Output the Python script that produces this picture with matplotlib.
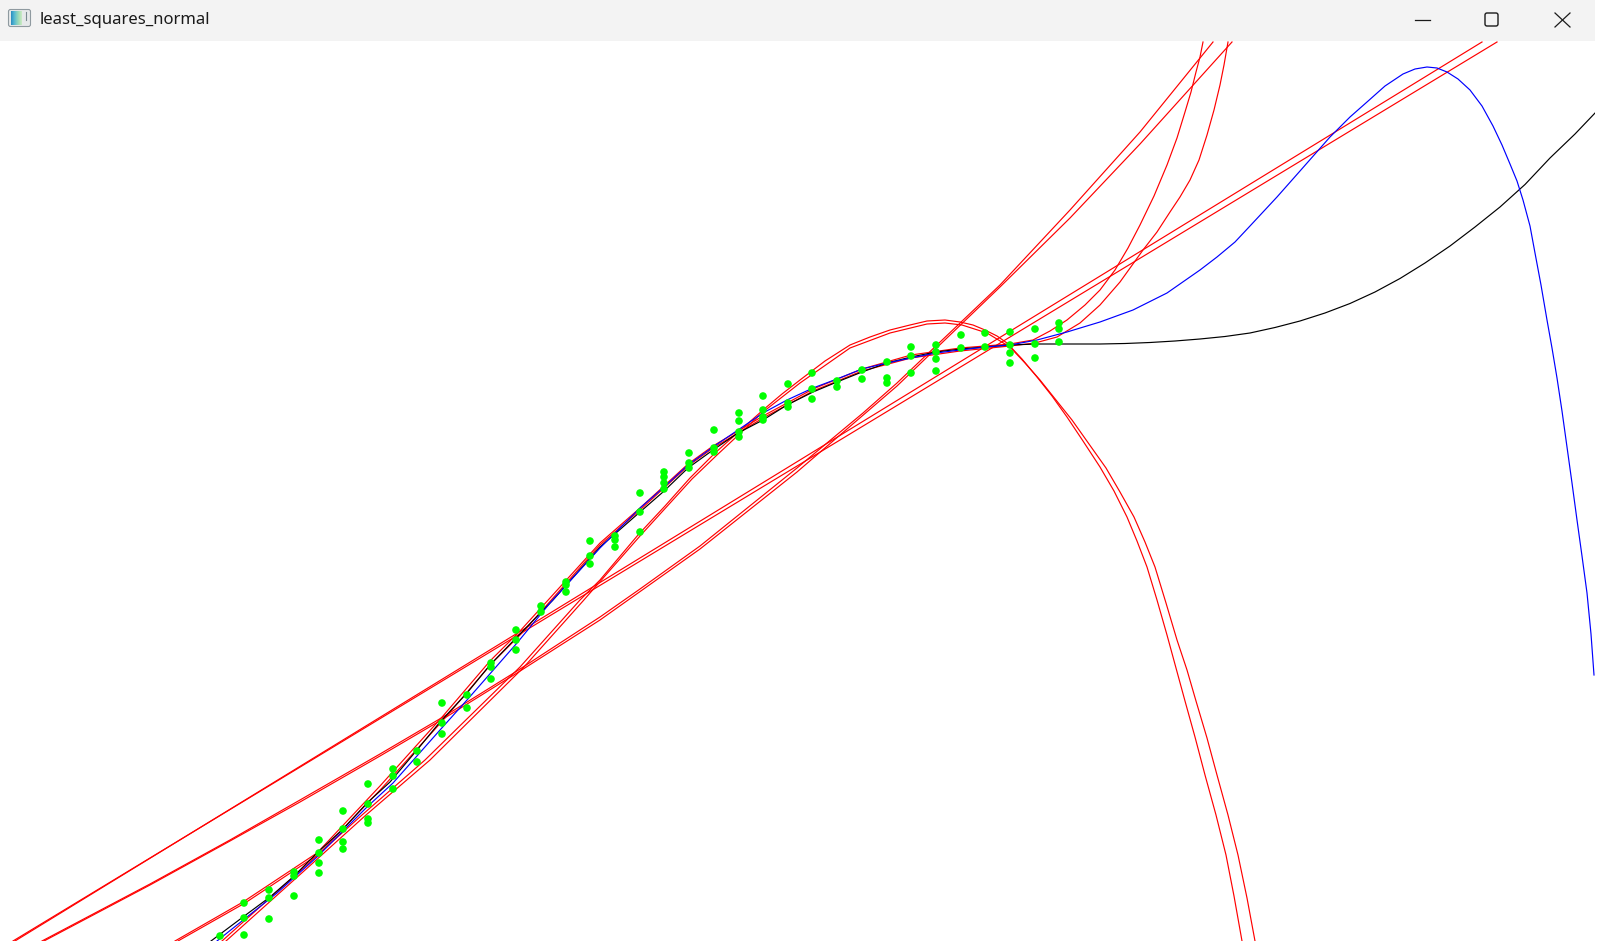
import matplotlib
matplotlib.use("Agg")
import matplotlib.pyplot as plt
from matplotlib.patches import Rectangle, FancyBboxPatch
import numpy as np

W, H = 1616, 941
title = "least_squares_normal"

# green samples in screen pixels: one x per column, several y per column
col_x = [220, 244, 269, 294, 319, 343, 368, 393, 417, 442, 467, 491, 516, 541, 566,
         590, 615, 640, 664, 689, 714, 739, 763, 788, 812, 837, 862, 887, 911, 936,
         961, 985, 1010, 1035, 1059]
col_y = [[936], [903, 918, 935], [890, 898, 919], [872, 876, 896],
         [840, 853, 863, 873], [811, 829, 842, 849], [784, 804, 819, 823],
         [769, 776, 789], [751, 762], [703, 723, 734], [695, 708],
         [663, 667, 679], [630, 640, 650], [606, 612], [582, 585, 592],
         [541, 556, 564], [536, 540, 547], [493, 512, 532], [472, 477, 483, 489],
         [453, 463, 468], [430, 448, 452], [413, 421, 432, 437], [396, 410, 417, 420],
         [384, 403, 407], [373, 389, 399], [381, 387], [370, 379],
         [362, 378, 383], [347, 356, 373], [345, 352, 359, 371], [335, 348],
         [333, 347], [332, 345, 353, 363], [329, 344, 358], [323, 329, 342]]

# black curve
black_pts = [(211, 941), (243, 917), (270, 897), (293, 877), (317, 853), (343, 829),
             (367, 803), (390, 782), (417, 750), (440, 722), (467, 693), (490, 665),
             (517, 637), (553, 600), (600, 547), (640, 512), (663, 492), (688, 468),
             (713, 450), (738, 433), (763, 420), (787, 405), (813, 392), (837, 382),
             (862, 372), (887, 363), (911, 357), (936, 352), (961, 349), (985, 347),
             (1010, 345), (1037, 344), (1070, 344), (1100, 344), (1125, 343.5),
             (1150, 342.5), (1175, 341), (1200, 339), (1225, 336.5), (1250, 333),
             (1275, 327.5), (1300, 321), (1325, 313), (1350, 303.5), (1375, 292),
             (1400, 278.5), (1425, 263), (1450, 246), (1475, 227), (1500, 207),
             (1525, 184.5), (1550, 158), (1575, 134), (1596, 112)]

# blue curve
blue_pts = [(217, 941), (247, 917), (277, 893), (317, 857), (367, 807), (393, 783),
            (440, 730), (467, 700), (517, 643), (550, 603), (600, 548), (640, 508),
            (663, 488), (688, 465), (713, 447), (738, 430), (763, 413), (787, 400),
            (813, 388), (837, 379), (862, 369), (887, 363), (911, 358), (936, 353),
            (960, 350), (985, 347), (1010, 345), (1037, 340), (1067, 332),
            (1100, 322), (1133, 310), (1167, 293), (1200, 270), (1217, 257),
            (1235, 242), (1250, 226), (1277, 197), (1300, 171), (1330, 137),
            (1350, 117), (1367, 102), (1385, 86), (1403, 74), (1415, 69),
            (1427, 67), (1437, 68), (1447, 72), (1458, 79), (1470, 90),
            (1482, 106), (1493, 126), (1502, 145), (1510, 164), (1517, 181),
            (1523, 200), (1530, 226), (1535, 253), (1541, 285), (1547, 320),
            (1552, 348), (1557, 378), (1562, 411), (1567, 447), (1572, 483),
            (1577, 520), (1582, 556), (1587, 593), (1591, 634), (1594, 675)]

# red fits, each drawn as a near pair
red_p1 = [(13, 941), (1497, 42)]
red_p2 = [(15, 941), (1482, 42)]

red_s1 = [(42, 941), (150, 884), (230, 840), (300, 800), (380, 754), (443, 717),
          (517, 671), (600, 617), (640, 589), (700, 546), (797, 468), (863, 413),
          (897, 383), (1000, 285), (1070, 210), (1140, 132), (1213, 42)]
red_s2 = [(44, 941), (150, 885), (230, 841), (300, 802), (380, 756), (443, 719),
          (517, 673), (600, 620), (700, 549), (797, 472), (897, 386), (1000, 287),
          (1070, 218), (1140, 144), (1232, 42)]

red_q1 = [(222, 941), (300, 871), (362, 815), (425, 760), (520, 667), (580, 600),
          (600, 580), (638, 535), (665, 506), (690, 478), (715, 453), (763, 410),
          (782, 394), (800, 380), (825, 361), (850, 345), (870, 337), (890, 330),
          (910, 325), (927, 321), (945, 320), (960, 322), (973, 325), (985, 330),
          (997, 336), (1007, 343), (1022, 359), (1037, 377), (1052, 396),
          (1067, 417), (1083, 441), (1100, 467), (1114, 491), (1127, 517),
          (1137, 541), (1147, 567), (1157, 600), (1167, 635), (1176, 668),
          (1185, 701), (1195, 737), (1205, 775), (1216, 815), (1226, 855),
          (1234, 896), (1242, 941)]
red_q2 = [(226, 941), (304, 871), (366, 815), (430, 760), (524, 667), (583, 601),
          (640, 536), (692, 479), (717, 455), (763, 412), (800, 383), (850, 348),
          (890, 333), (927, 324), (945, 323), (962, 325), (987, 333), (1010, 347),
          (1025, 363), (1040, 380), (1056, 400), (1072, 420), (1089, 444),
          (1106, 468), (1120, 492), (1134, 517), (1145, 542), (1155, 567),
          (1166, 603), (1177, 640), (1187, 670), (1196, 701), (1207, 738),
          (1217, 775), (1228, 815), (1238, 855), (1247, 898), (1255, 941)]

red_c1 = [(175, 941), (243, 902), (317, 853), (380, 786), (443, 716), (490, 661),
          (520, 631), (600, 543), (640, 508), (688, 464), (713, 446), (763, 416),
          (813, 389), (862, 369), (911, 355), (960, 348), (1010, 344), (1033, 340),
          (1050, 331), (1067, 320), (1085, 305), (1100, 290), (1115, 270),
          (1128, 248), (1140, 225), (1154, 196), (1167, 165), (1177, 138),
          (1185, 112), (1191, 92), (1196, 72), (1200, 57), (1203, 42)]
red_c2 = [(178, 941), (245, 903), (319, 854), (382, 788), (445, 718), (492, 663),
          (522, 633), (600, 545), (640, 510), (688, 466), (713, 448), (763, 418),
          (813, 391), (862, 371), (911, 358), (960, 351), (1010, 346), (1035, 343),
          (1057, 337), (1080, 323), (1100, 305), (1120, 282), (1143, 250),
          (1157, 232), (1170, 212), (1180, 197), (1190, 180), (1199, 160),
          (1207, 135), (1214, 110), (1220, 85), (1224, 65), (1228, 42)]

red_curves = [red_p1, red_p2, red_s1, red_s2, red_q1, red_q2, red_c1, red_c2]


def draw(ax, pts, color, z):
    xs = [p[0] for p in pts]
    ys = [p[1] for p in pts]
    ax.plot(xs, ys, color=color, lw=0.85, zorder=z, solid_joinstyle="round")


fig = plt.figure(figsize=(W / 100, H / 100), dpi=100)
ax = fig.add_axes([0, 0, 1, 1])
fig.patch.set_facecolor("white")

for c in red_curves:
    draw(ax, c, "#ff0000", 2)
draw(ax, black_pts, "#000000", 3)
draw(ax, blue_pts, "#0000ff", 4)

px = []
py = []
for x, ys in zip(col_x, col_y):
    for y in ys:
        px.append(x)
        py.append(y)
ax.scatter(px, py, s=30, color="#00ff00", edgecolors="none", zorder=5)

# window chrome
ax.add_patch(Rectangle((0, 0), 1595, 41, facecolor="#f3f3f3", edgecolor="none", zorder=10))
ax.add_patch(Rectangle((1595, 0), 30, H, facecolor="white", edgecolor="none", zorder=10))

# app icon
ax.add_patch(FancyBboxPatch((8.5, 9.5), 22, 17, boxstyle="round,pad=0,rounding_size=2",
                            facecolor="#e6e9ea", edgecolor="#8f9aa0", lw=0.8, zorder=11))
grad = np.linspace(0, 1, 12)[None, :] * np.ones((14, 1))
ax.imshow(grad, extent=(10.5, 21.5, 25, 11), cmap="GnBu_r", vmin=-0.6, vmax=1.6,
          aspect="auto", zorder=12)
ax.plot([25.5, 25.5], [12, 20], color="#7a8a90", lw=0.8, zorder=12)

ax.text(40, 20, title, fontsize=12, family=["Noto Sans", "DejaVu Sans"],
        color="#1a1a1a", va="center", ha="left", zorder=12)

# caption buttons
ax.plot([1415, 1430], [20, 20], color="#1a1a1a", lw=0.9, zorder=12)
ax.add_patch(FancyBboxPatch((1485, 13), 13, 13, boxstyle="round,pad=0,rounding_size=2",
                            facecolor="none", edgecolor="#1a1a1a", lw=1.0, zorder=12))
ax.plot([1555, 1570], [13, 27], color="#1a1a1a", lw=0.9, zorder=12)
ax.plot([1555, 1570], [27, 13], color="#1a1a1a", lw=0.9, zorder=12)

ax.set_xlim(0, W)
ax.set_ylim(H, 0)
ax.axis("off")

fig.savefig("out.png", dpi=100, facecolor="white")
